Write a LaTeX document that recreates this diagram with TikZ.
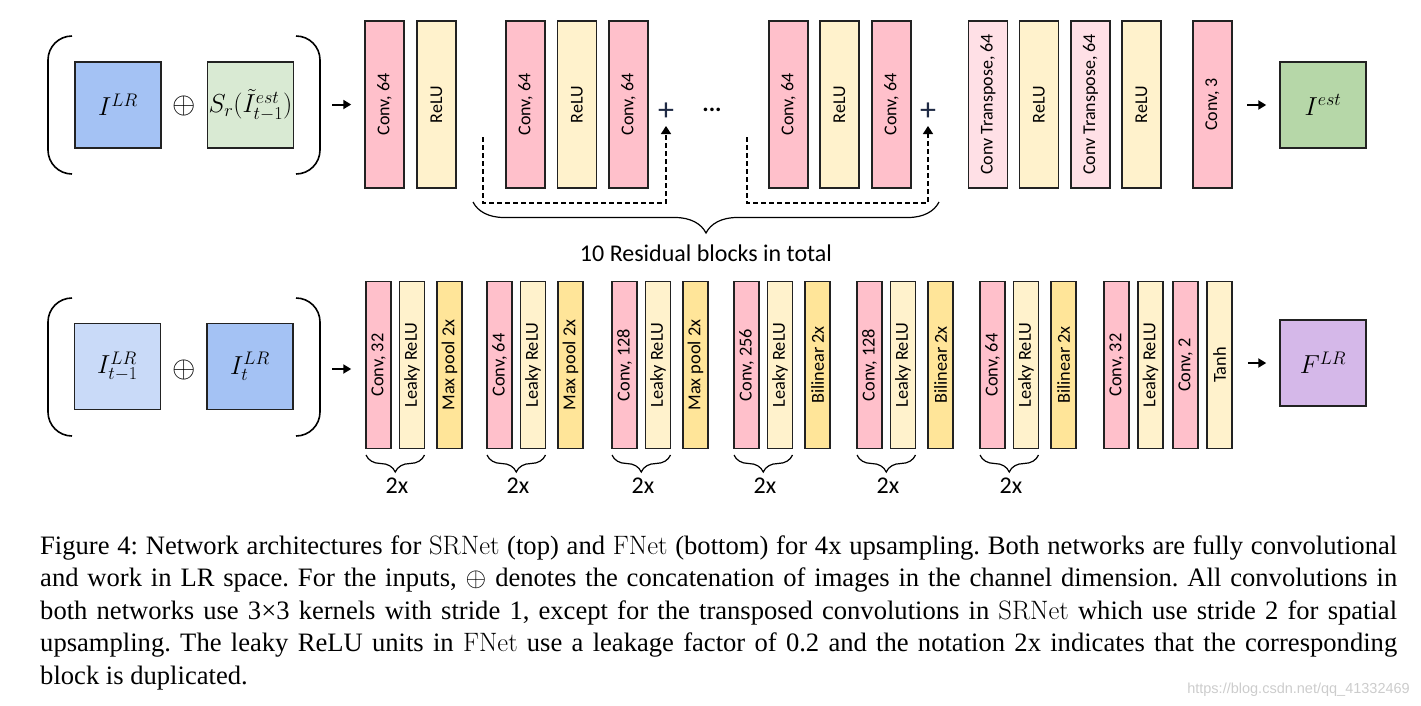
\RequirePackage{fix-cm}
\documentclass[tikz,border=0pt]{standalone}
\usepackage{fontspec}
\setmainfont{Liberation Serif}
\newfontfamily\carl{Carlito}
\newfontfamily\wmfont{Liberation Sans}
\usetikzlibrary{arrows.meta,decorations.pathreplacing}

\definecolor{linec}{HTML}{222222}
\definecolor{convc}{HTML}{FFC0CB}
\definecolor{tconvc}{HTML}{FFE0E6}
\definecolor{reluc}{HTML}{FFF2CC}
\definecolor{sampc}{HTML}{FFE599}
\definecolor{lrc}{HTML}{A4C2F4}
\definecolor{prevc}{HTML}{C9DAF8}
\definecolor{warpc}{HTML}{D9EAD3}
\definecolor{estc}{HTML}{B6D7A8}
\definecolor{flowc}{HTML}{D5B8E9}
\definecolor{plusc}{HTML}{1F2A44}

\newcommand{\lmtext}[1]{{\fontfamily{lmr}\selectfont #1}}

\tikzset{
  layer/.style={draw=linec, line width=1.5pt, rotate=90, inner sep=0pt,
    minimum width=167pt, minimum height=39pt, font=\carl\fontsize{18}{18}\selectfont},
  conv/.style={layer, fill=convc},
  tconv/.style={layer, fill=tconvc},
  relu/.style={layer, fill=reluc},
  flayer/.style={layer, minimum height=25pt, font=\carl\fontsize{18.3}{18.3}\selectfont},
  fconv/.style={flayer, fill=convc},
  frelu/.style={flayer, fill=reluc},
  fsamp/.style={flayer, fill=sampc},
  img/.style={draw=linec, line width=1.5pt, minimum size=86pt, inner sep=0pt,
    font=\fontsize{26}{26}\selectfont},
  cat/.style={inner sep=0pt, font=\fontsize{30}{30}\selectfont},
  sum/.style={inner sep=0pt, text=plusc, font=\carl\fontsize{32}{32}\selectfont},
  cnt/.style={inner sep=0pt, font=\carl\fontsize{24}{24}\selectfont},
  paren/.style={line width=1.6pt, rounded corners=24pt},
  fwd/.style={line width=2pt, -{Triangle[length=8pt,width=9pt]}},
  skip/.style={line width=1.5pt, dash pattern=on 5pt off 3pt,
    -{Triangle[length=8pt,width=10pt]}},
  grp/.style={decorate, decoration={brace, mirror, amplitude=#1}, line width=1.2pt}
}

\begin{document}
\begin{tikzpicture}[x=1pt, y=-1pt]
  \useasboundingbox (0,0) rectangle (1421,705);

  % SRNet
  \draw[paren] (72,36) -- (48,36) -- (48,174) -- (72,174);
  \draw[paren] (296,36) -- (320,36) -- (320,174) -- (296,174);
  \node[img, fill=lrc] (lr) at (118,105) {$I^{LR}$};
  \node[cat] (cat1) at (184,106) {$\oplus$};
  \node[img, fill=warpc] (warp) at (250.5,105) {$S_r(\tilde{I}^{est}_{t-1})$};
  \coordinate (in1) at (332,104.5);

  \node[conv] (c1) at (384.5,104.5) {Conv, 64};
  \node[relu] (r1) at (436.5,104.5) {ReLU};
  \draw[fwd, shorten >=13pt] (in1) -- (c1.north);

  % residual blocks
  \node[conv] (c2) at (525.5,104.5) {Conv, 64};
  \node[relu] (r2) at (577,104.5) {ReLU};
  \node[conv] (c3) at (628.5,104.5) {Conv, 64};
  \node[sum] (p1) at (666,112) {+};
  \coordinate (s1) at (483,137);
  \coordinate (b1) at (666,203);
  \draw[skip] (s1) |- (b1) -- ([yshift=-14pt]p1.center);

  \node[cnt, font=\carl\bfseries\fontsize{24}{24}\selectfont] (dots) at (712,110) {...};

  \node[conv] (c4) at (788.5,104.5) {Conv, 64};
  \node[relu] (r4) at (839.5,104.5) {ReLU};
  \node[conv] (c5) at (891.5,104.5) {Conv, 64};
  \node[sum] (p2) at (928,112) {+};
  \coordinate (s2) at (747,137);
  \coordinate (b2) at (928,203);
  \draw[skip] (s2) |- (b2) -- ([yshift=-14pt]p2.center);

  \draw[grp=31pt] (473,202) -- (939,202);
  \node[cnt] (nres) at (706,253) {10 Residual blocks in total};

  % upsampling
  \node[tconv] (t1) at (988,104.5) {Conv Transpose, 64};
  \node[relu] (r6) at (1039,104.5) {ReLU};
  \node[tconv] (t2) at (1090.5,104.5) {Conv Transpose, 64};
  \node[relu] (r7) at (1141.5,104.5) {ReLU};
  \node[conv] (c6) at (1212.5,104.5) {Conv, 3};
  \node[img, fill=estc] (est) at (1323,105) {$I^{est}$};
  \draw[fwd, shorten <=14.5pt, shorten >=13pt] (c6.south |- est.west) -- (est.west);

  % FNet
  \draw[paren] (72,298) -- (48,298) -- (48,436) -- (72,436);
  \draw[paren] (296,298) -- (320,298) -- (320,436) -- (296,436);
  \node[img, fill=prevc] (prev) at (117.5,366.5) {$I^{LR}_{t-1}$};
  \node[cat] (cat2) at (184,370) {$\oplus$};
  \node[img, fill=lrc] (cur) at (250,366.5) {$I^{LR}_{t}$};
  \coordinate (in2) at (332,369);

  \foreach \i/\x/\ch/\lay in {1/378.5/32/Max pool 2x, 2/499.5/64/Max pool 2x,
      3/624.5/128/Max pool 2x, 4/746.5/256/Bilinear 2x,
      5/869.5/128/Bilinear 2x, 6/992.5/64/Bilinear 2x}{
    \node[fconv] (fc\i) at (\x,365) {Conv, \ch};
    \node[frelu] (fr\i) at ({\x+33.5},365) {Leaky ReLU};
    \node[fsamp] (fs\i) at ({\x+71},365) {\lay};
    \draw[grp=17pt] ({\x-12.5},455) -- ({\x+46},455);
    \node[cnt] (fx\i) at ({\x+18.5},486) {2x};
  }
  \draw[fwd, shorten >=14pt] (in2) -- (in2 -| fc1.north);

  \node[fconv] (fc7) at (1116.5,365) {Conv, 32};
  \node[frelu] (fr7) at (1150.5,365) {Leaky ReLU};
  \node[fconv] (fc8) at (1185.5,365) {Conv, 2};
  \node[frelu] (th) at (1219.5,365) {Tanh};
  \node[img, fill=flowc] (flow) at (1323,363) {$F^{LR}$};
  \draw[fwd, shorten <=15pt, shorten >=13pt] (th.south |- flow.west) -- (flow.west);

  % caption
  \node[anchor=base west, inner sep=0pt, font=\fontsize{26.6}{32.5}\selectfont] (cap) at (40,554) {\parbox[t]{1357pt}{\frenchspacing
    \hbox to 1357pt{Figure 4: Network architectures for \lmtext{SRNet} (top) and \lmtext{FNet} (bottom) for 4x upsampling. Both networks are fully convolutional}%
    \hbox to 1357pt{and work in LR space. For the inputs, $\oplus$ denotes the concatenation of images in the channel dimension. All convolutions in}%
    \hbox to 1357pt{both networks use 3×3 kernels with stride 1, except for the transposed convolutions in \lmtext{SRNet} which use stride 2 for spatial}%
    \hbox to 1357pt{upsampling. The leaky ReLU units in \lmtext{FNet} use a leakage factor of 0.2 and the notation 2x indicates that the corresponding}%
    \hbox{block is duplicated.}}};
  \node[anchor=base east, inner sep=0pt, text=black!20, font=\wmfont\fontsize{14.5}{14.5}\selectfont] (wm) at (1410,693) {https://blog.csdn.net/qq\_41332469};
\end{tikzpicture}
\end{document}
